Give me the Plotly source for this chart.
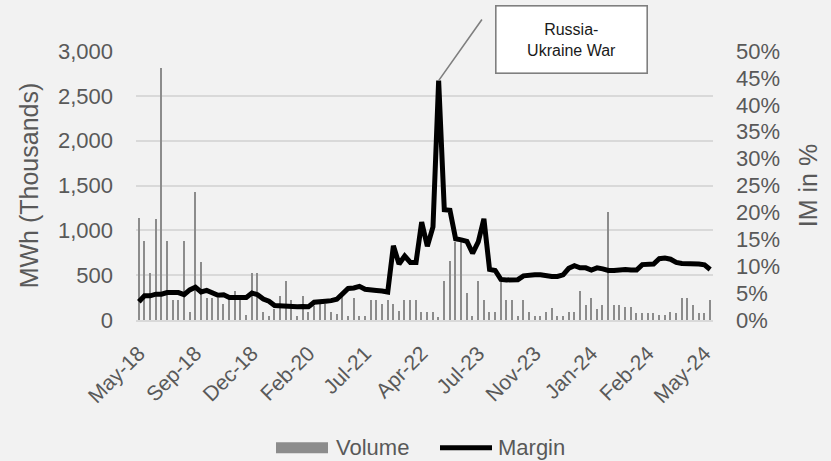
import plotly.graph_objects as go

# Observation index (one per reporting period) and the labels shown every 10th period
periods = list(range(102))
tick_positions = [0, 10, 20, 30, 40, 50, 60, 70, 80, 90, 100]
tick_labels = ["May-18", "Sep-18", "Dec-18", "Feb-20", "Jul-21", "Apr-22",
               "Jul-23", "Nov-23", "Jan-24", "Feb-24", "May-24"]

# Traded volume, MWh (thousands)
volume = [
    1141, 877, 527, 1127, 2812, 877, 220, 220, 877, 86,
    1425, 650, 247, 250, 250, 176, 240, 318, 240, 57,
    527, 527, 86, 46, 124, 265, 437, 220, 46, 265,
    90, 160, 180, 180, 86, 68, 265, 46, 243, 46,
    46, 220, 220, 176, 220, 176, 105, 220, 220, 220,
    86, 86, 86, 30, 440, 657, 866, 866, 305, 46,
    440, 220, 86, 86, 425, 220, 220, 46, 220, 86,
    46, 46, 86, 130, 46, 46, 86, 86, 318, 162,
    240, 125, 162, 1207, 162, 162, 142, 142, 80, 80,
    80, 80, 53, 53, 84, 80, 240, 240, 162, 80,
    80, 218,
]

# Initial margin, percent
margin_pct = [
    3.4, 4.5, 4.5, 4.8, 4.8, 5.1, 5.1, 5.1, 4.7, 5.6,
    6.1, 5.2, 5.5, 5.0, 4.6, 4.7, 4.2, 4.2, 4.2, 4.2,
    5.0, 4.7, 3.9, 3.5, 2.7, 2.6, 2.5, 2.5, 2.45, 2.5,
    2.45, 3.3, 3.3, 3.5, 3.6, 3.85, 4.85, 5.85, 5.95, 6.25,
    5.7, 5.5, 5.5, 5.4, 5.2, 13.8, 10.4, 11.9, 10.7, 10.7,
    18.2, 13.7, 17.3, 44.5, 20.5, 20.4, 15.1, 14.9, 14.6, 12.4,
    14.5, 18.8, 9.4, 9.2, 7.55, 7.45, 7.45, 7.5, 8.2, 8.4,
    8.4, 8.4, 8.2, 8.1, 8.1, 8.4, 9.6, 10.1, 9.7, 9.7,
    9.3, 9.7, 9.5, 9.2, 9.2, 9.4, 9.4, 9.3, 9.3, 10.3,
    10.4, 10.4, 11.4, 11.5, 11.3, 10.7, 10.5, 10.5, 10.5, 10.4,
    10.25, 9.4,
]
margin = [v / 100 for v in margin_pct]

event_label = "Russia-<br>Ukraine War"
event_index = margin.index(max(margin))

FONT = "Liberation Sans, Arial, sans-serif"
TEXT_GREY = "#595959"
BAR_GREY = "#8C8C8C"
GRID = "#D9D9D9"
BG = "#F2F2F2"

W, H = 831, 461
ML, MR, MT, MB = 136, 118, 51, 141
PW, PH = W - ML - MR, H - MT - MB


def px_x(px):
    return (px - ML) / PW


def px_y(py):
    return (H - MB - py) / PH


fig = go.Figure()
fig.add_trace(go.Bar(
    x=periods, y=volume, name="Volume", width=0.25,
    marker=dict(color=BAR_GREY, line=dict(width=0)),
    showlegend=False,
))
fig.add_trace(go.Scatter(
    x=periods, y=margin, name="Margin", yaxis="y2", mode="lines",
    line=dict(color="black", width=5, shape="linear"),
    showlegend=False,
))

fig.update_layout(
    width=W, height=H,
    margin=dict(l=ML, r=MR, t=MT, b=MB, pad=0),
    paper_bgcolor=BG, plot_bgcolor=BG,
    font=dict(family=FONT, size=22, color=TEXT_GREY),
    bargap=0,
    xaxis=dict(
        range=[-0.5, 101.5], tickmode="array", tickvals=tick_positions,
        ticktext=tick_labels, tickangle=-45, ticks="",
        showgrid=False, zeroline=False, showline=True,
        linecolor=GRID, linewidth=1.5, ticklabelstandoff=11,
        tickfont=dict(size=21),
    ),
    yaxis=dict(
        range=[0, 3000], dtick=500, tickformat=",", ticks="",
        showgrid=True, gridcolor=GRID, gridwidth=1.5, zeroline=False,
        ticklabelstandoff=22,
        title=dict(text="MWh (Thousands)", font=dict(size=25), standoff=12),
    ),
    yaxis2=dict(
        range=[0, 0.5], dtick=0.05, tickformat=".0%", ticks="",
        overlaying="y", side="right", showgrid=False, zeroline=False,
        ticklabelstandoff=22,
        title=dict(text="IM in %", font=dict(size=25), standoff=20),
    ),
)

# Callout for the war-driven spike
peak_x_px = ML + (event_index + 0.5) * PW / 102
peak_y_px = MT + PH * (1 - margin[event_index] / 0.5)
fig.add_annotation(
    x=event_index, y=margin[event_index], xref="x", yref="y2",
    text="", showarrow=True, arrowhead=0, arrowwidth=1.6, arrowcolor="#7F7F7F",
    ax=483 - peak_x_px, ay=18 - peak_y_px, axref="pixel", ayref="pixel",
    standoff=0,
)
fig.add_annotation(
    x=px_x(571), y=px_y(39.5), xref="paper", yref="paper",
    text=event_label, showarrow=False, align="center",
    font=dict(family=FONT, size=16, color="#1A1A1A"),
    bgcolor="white", bordercolor="#7F7F7F", borderwidth=1.6, borderpad=1,
    width=148, height=64, xanchor="center", yanchor="middle",
)

# Legend drawn below the axis
leg_y = 447.7
fig.add_shape(type="rect", xref="paper", yref="paper",
              x0=px_x(276), x1=px_x(328), y0=px_y(leg_y - 5.5), y1=px_y(leg_y + 5.5),
              fillcolor=BAR_GREY, line=dict(width=0))
fig.add_annotation(x=px_x(334), y=px_y(leg_y), xref="paper", yref="paper",
                   text="Volume", showarrow=False, xanchor="left", yanchor="middle",
                   font=dict(size=22, color=TEXT_GREY))
fig.add_shape(type="line", xref="paper", yref="paper",
              x0=px_x(440), x1=px_x(492), y0=px_y(leg_y), y1=px_y(leg_y),
              line=dict(color="black", width=5))
fig.add_annotation(x=px_x(496), y=px_y(leg_y), xref="paper", yref="paper",
                   text="Margin", showarrow=False, xanchor="left", yanchor="middle",
                   font=dict(size=22, color=TEXT_GREY))

fig.write_html("out.html")
